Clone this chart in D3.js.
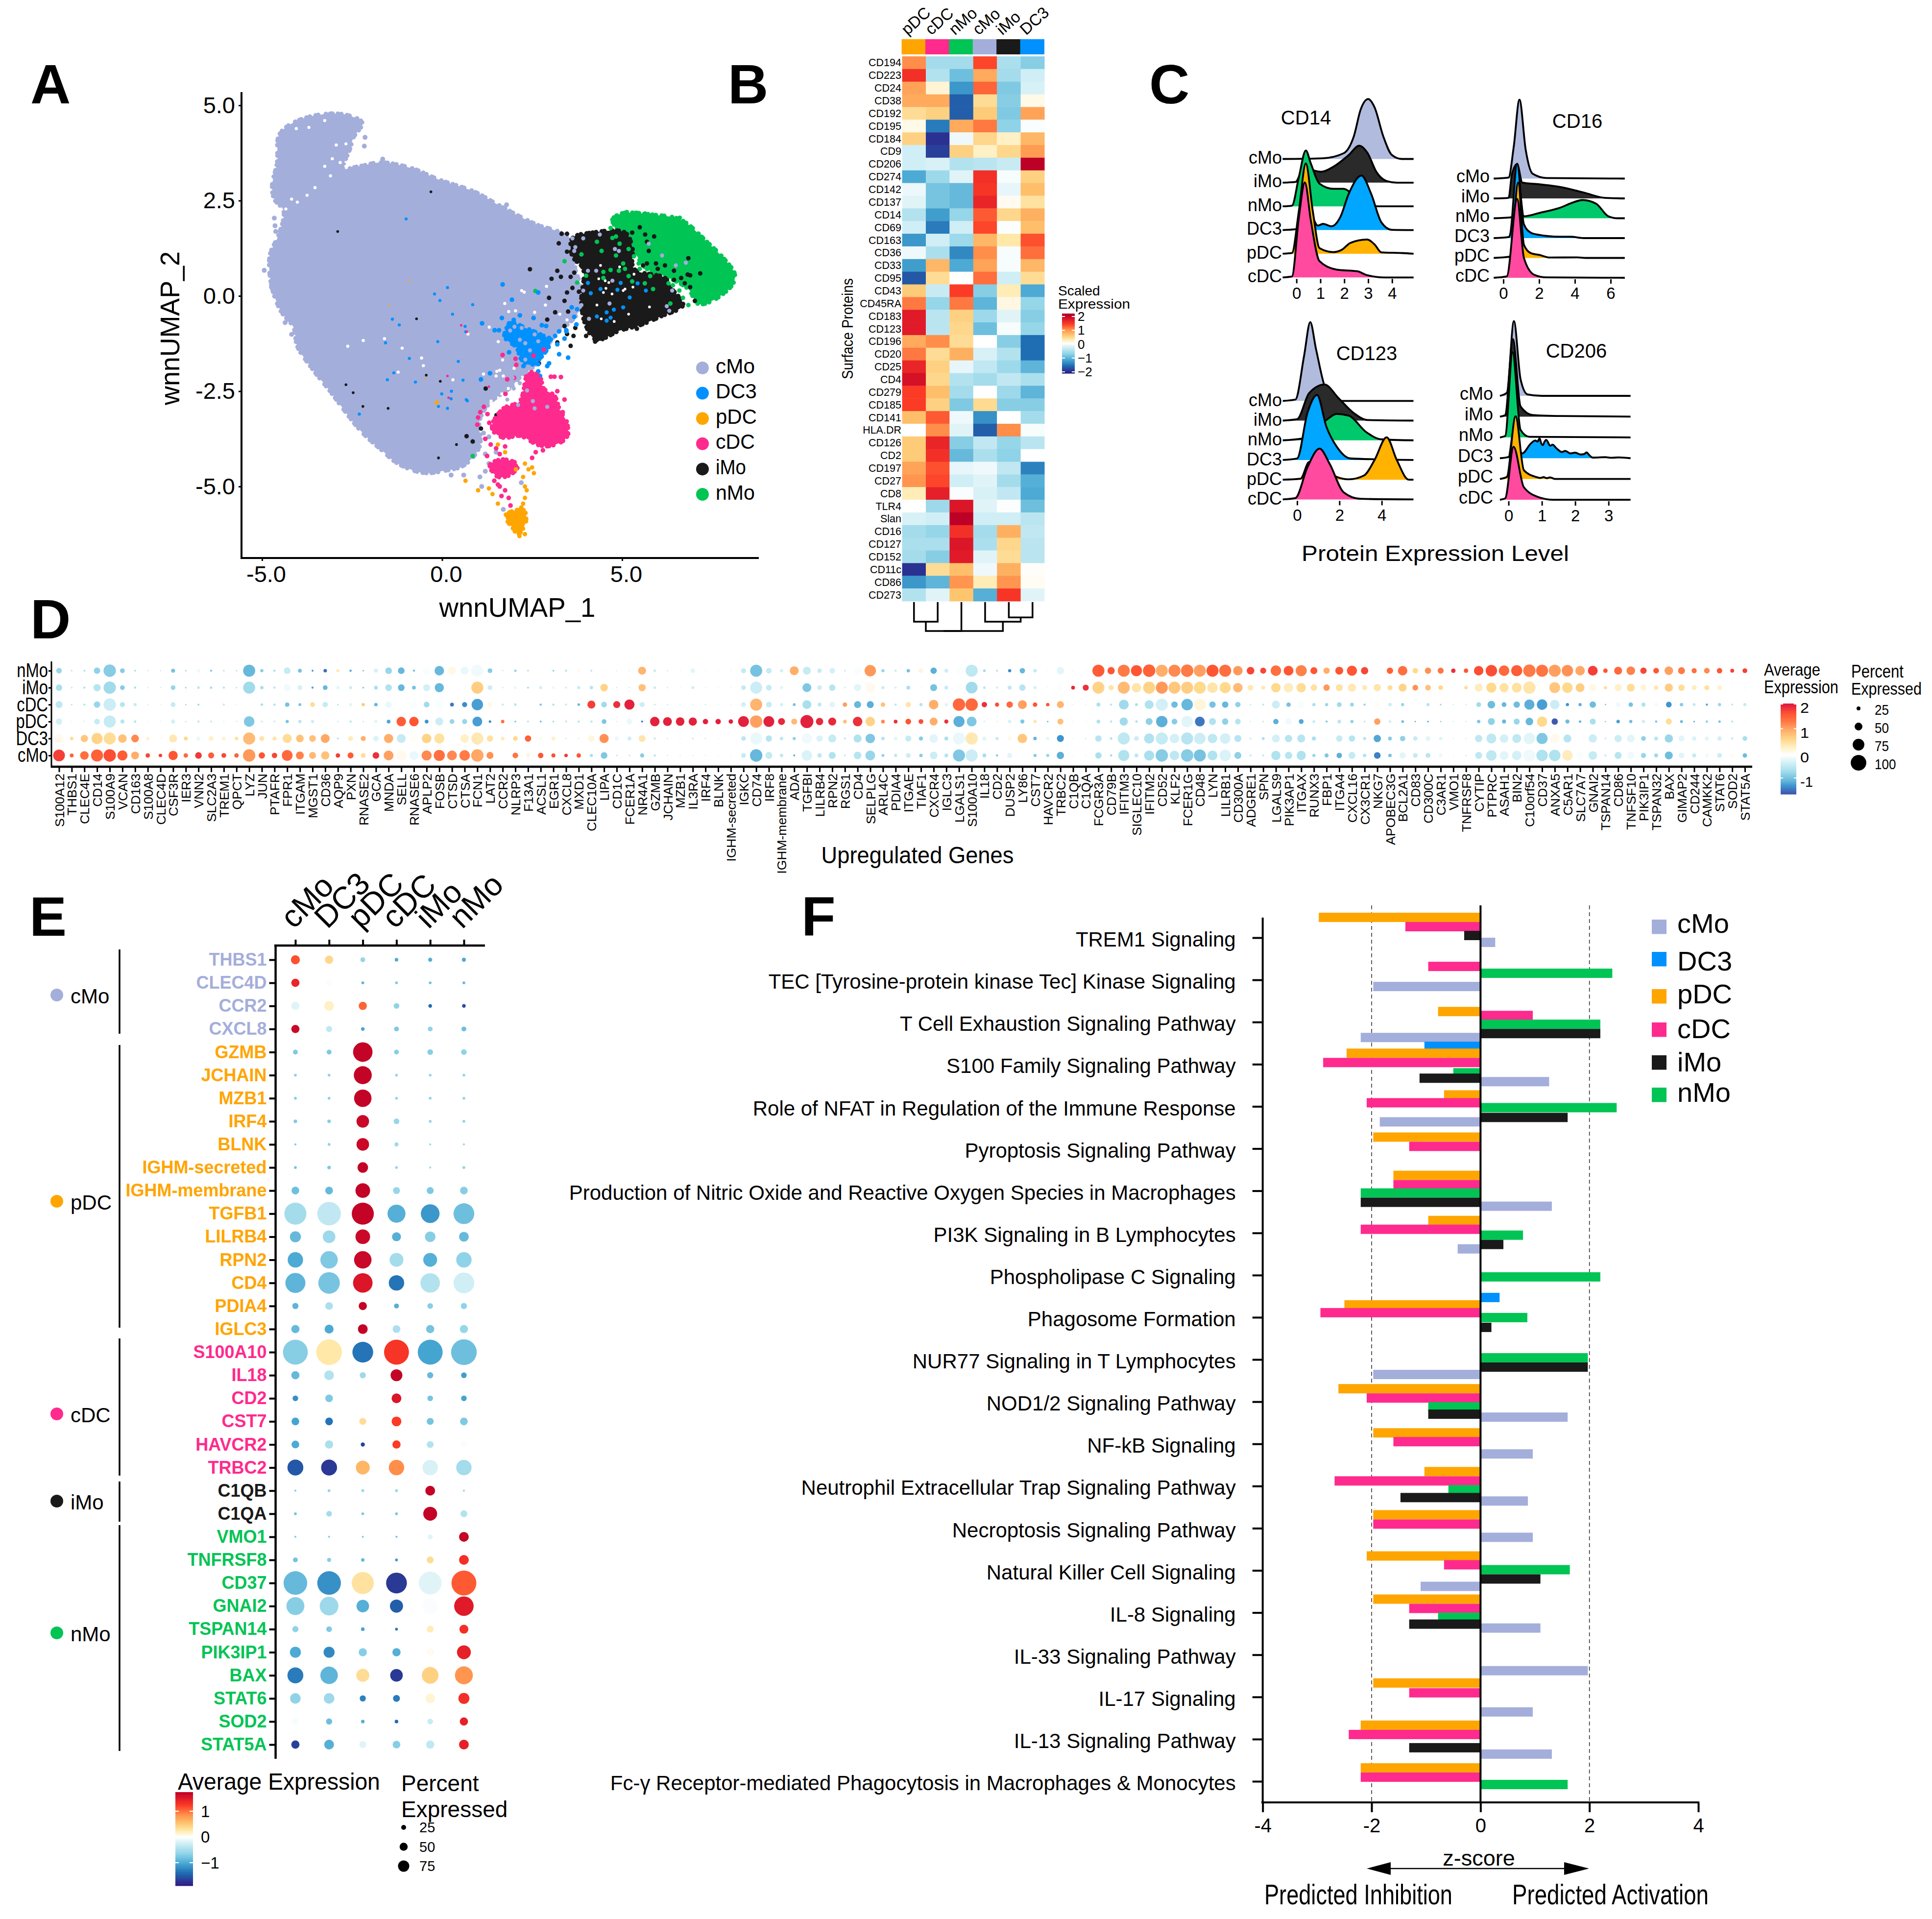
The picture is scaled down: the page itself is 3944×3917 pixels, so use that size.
<!DOCTYPE html>
<html><head><meta charset="utf-8">
<script src="https://cdn.jsdelivr.net/npm/d3@7/dist/d3.min.js"></script>
<style>html,body{margin:0;background:#fff}svg{display:block;font-family:"Liberation Sans",Arial,sans-serif}</style>
</head><body><svg id="c" width="3944" height="3917" viewBox="0 0 3944 3917"></svg>
<script>
// ---------- shared ----------
const clusterColors={cMo:"#A4AEDB",DC3:"#0091FF",pDC:"#FFA500",cDC:"#FF2A8D",iMo:"#1A1A1A",nMo:"#00C454"};
const ridgeFill={cMo:"#B1BBDE",iMo:"#2A2A2A",nMo:"#00C96B",DC3:"#00A6FF",pDC:"#FFB200",cDC:"#FF4AA0"};

// ---------- A: UMAP outlines and individually read points ----------
const umapCMo=[[-4.8,.76],[-4.77,1.12],[-4.53,1.62],[-4.4,2.23],[-4.66,2.54],[-4.72,2.89],[-4.58,3.5],[-4.53,4.21],[-4.18,4.52],[-3.43,4.75],[-2.67,4.75],[-2.22,4.54],[-2.46,4.16],[-2.56,3.86],[-2.73,3.35],[-2.3,3.4],[-1.7,3.5],[-.85,3.35],[-.09,3.05],[.88,2.74],[1.52,2.41],[2.6,1.88],[3.3,1.65],[3.61,1.34],[3.7,.7],[3.9,.1],[3.85,-.3],[3.6,-.65],[3.2,-.95],[2.9,-1.35],[2.6,-1.8],[2.2,-2.1],[1.9,-2.4],[1.33,-2.8],[1.04,-3.26],[1.04,-3.95],[.61,-4.44],[.04,-4.59],[-.53,-4.64],[-1.24,-4.39],[-1.67,-4.05],[-2.24,-3.56],[-3.16,-2.44],[-3.59,-1.93],[-4.02,-1.32],[-4.13,-.82],[-4.47,-.41],[-4.72,.2]];
const umapNMo=[[4.98,2.16],[5.84,2.13],[6.64,1.99],[7.35,1.42],[7.85,.95],[8.13,.56],[8.05,.28],[7.45,-.15],[7.1,-.2],[6.84,.18],[6.19,.52],[5.69,.71],[5.38,1.09],[4.98,1.66],[4.73,1.99]];
const umapIMo=[[3.62,1.51],[4.18,1.66],[5.08,1.66],[5.28,1.28],[5.33,.71],[6.19,.47],[6.34,.23],[6.69,-.24],[6.09,-.53],[5.48,-.77],[4.93,-.91],[4.28,-1.15],[3.97,-.72],[3.87,-.15],[3.92,.71],[3.62,1.04]];
const umapDC3=[[1.73,-1.05],[1.91,-.72],[2.36,-.86],[2.82,-1.05],[3.02,-1.15],[2.82,-1.53],[2.46,-1.81],[2.21,-1.67],[2.06,-1.34],[1.84,-1.19]];
const umapCDC=[[1.41,-3.33],[1.71,-2.95],[2.16,-2.76],[2.41,-2],[2.72,-2.15],[2.82,-2.43],[3.12,-2.62],[3.27,-3],[3.47,-3.33],[3.45,-3.72],[3.02,-3.93],[2.67,-3.91],[2.16,-3.67],[1.71,-3.72],[1.41,-3.53]];
const umapCDC2=[[1.33,-4.44],[1.69,-4.29],[2.11,-4.44],[1.9,-4.69],[1.54,-4.74]];
const umapPDC=[[1.76,-5.76],[2.26,-5.62],[2.33,-5.9],[2.11,-6.25],[1.97,-6.1]];
const gapsCMo=[[-3.7,4.42],[-2.94,3.96],[-2.67,3.99],[-3.05,3.6],[-3.26,3.4],[-3.53,2.84],[-3.75,2.64],[-4.18,2.54],[-4.02,2.46],[-4.34,2.28],[-2.67,3.4],[-3.1,3.15],[-2.83,3.5],[-3.26,4.6],[-4.05,4.39],[-1.6,-1.12],[-2.19,-1.17],[-1.11,-1.37],[-.57,-1.63],[-2.62,-1.32],[-1.22,-2],[-.52,-1.83],[.72,-1],[1.31,-.82],[1.85,-.41],[1.74,-.2],[2.28,.1],[1.52,-1.98],[1.68,-1.68],[2.21,.14],[2.04,-.39],[2.87,-.24],[3.27,-.48],[3.47,-.63],[2.57,-.43],[1.56,-1.2],[2,-1.9],[1.5,-2.1],[1.15,-2.05],[1.7,-2.1],[1.6,-1.95],[2.9,.25],[.3,-2.2],[1.36,-2.76],[1.66,-2.57],[1.84,-2.43]];
const gapsIMo=[[4.35,.45],[4.53,.4],[4.63,.35],[4.48,.09],[4.3,-.24],[5.08,.18],[5.03,.14],[4.78,-.67],[5.18,-.48],[5.76,-.29],[4.93,.76],[5.33,.57],[4.55,.2],[4.72,.05],[4.42,-.6],[5.3,.23],[4.4,.8]];
const strayCMo=[[-4.94,.67],[-4.74,.23],[-4.36,-.7],[-4.18,-1.01],[-4.64,1.84],[-4.62,1.69],[-4.66,2.04],[-2.14,4.16],[-2.16,3.93],[-1.65,3.59],[1.79,2.39],[2.2,-4.9],[.6,-4.7],[1.1,-5],[1.7,-5.6],[1.2,-4.6],[1.05,-4.75],[.25,-4.7],[1.5,-4.1],[1.3,-4.4],[1.2,-4.15],[1.15,-3.6],[1.3,-3.7]];
const overCMo=[[3.7,1.28],[3.67,1.18],[3.92,1.51],[4.8,1.23],[4.91,1.18],[4.28,.66],[4.05,.66],[4.73,.4],[4.65,-.2],[6.24,-.27],[6.31,-.39],[5.74,1.37],[6.11,1.06],[6.49,.8],[6.77,.87],[6.39,.14],[4.08,-.6],[3.87,-.24],[3.92,.14],[3.77,.5],[3.62,1.51],[4.38,1.61]];
const overDC3CMo=[[2.21,-.84],[2.47,-.67],[2.82,-.89],[2.57,-1.01],[2.16,-1.15],[2.31,-1.24],[2.67,-1.19],[2.44,-1.43],[2.31,-1.67],[2.01,-.81],[1.89,-.91],[2.82,-.43],[2.41,-.43],[3.07,-.24]];
const overCDCCMo=[[2.16,-2.29],[2.36,-2.48],[2.52,-2.76],[2.92,-2.91],[2.57,-2.95],[2.11,-2.86],[1.96,-2.15],[1.99,-2.43],[1.53,-2.53],[1.81,-2.72]];
const pointsDC3=[[1.46,-.9],[1.58,-.9],[1.66,-.58],[1.86,-.72],[1.99,-.63],[2.16,-.51],[2.54,-.58],[2.77,-.77],[2.89,-.79],[3.25,-.93],[3.4,-1.12],[3.45,-.93],[3.14,-1.05],[3.2,-1.27],[3.25,-1.53],[3.5,-1.62],[2.97,-1.77],[2.92,-1.84],[2.67,-1.79],[2.26,-1.84],[2.67,-1.98],[2.72,-2.1],[1.86,-1.48],[1.11,-.72],[1.94,-.1],[2.67,.09],[1.68,.3],[1.33,-2.03],[1.08,-2.19],[3.45,-.9],[3.67,-.55],[3.73,-.75],[3.6,-.3],[3.75,-.35]];
const deepDC3=[[-1,2.02],[.15,.22],[-.21,.05],[-.06,-.12],[-1.38,-.61],[-1.19,-.76],[-1.57,-1.23],[.29,-.48],[.85,-.23],[1.11,-.71],[.64,-.8],[.66,-.94],[1.67,.3],[-.12,-1.2],[-.91,-1.64],[-1.34,-2.02],[-1.52,-2.2],[-.74,-2.26],[.45,-1.72],[.58,-2.21],[1.33,-2.03],[1.07,-2.21],[.67,-2.72],[-.01,-2.57],[.26,-2.5],[.25,-2.7],[.7,-2.75],[-.1,-2.9],[-2.3,-3.1],[.15,-2.95]];
const overIMoDC3=[[4.05,.34],[4.4,.18],[4.96,.34],[4.87,.16],[5.21,-.04],[4.3,-.54],[4.57,-.43],[4.57,-.65],[4.77,-.36],[5.03,-.3],[4.68,-.57],[4.13,.07],[5.66,.14],[5.43,.33]];
const pointsIMo=[[5.69,1.42],[5.89,1.56],[5.64,1.61],[5.49,1.8],[5.28,1.66],[5.94,.85],[6.19,.8],[6.44,.66],[6.82,.56],[6.89,.54],[7.17,.59],[6.84,.99],[6.64,.47],[6.74,.33],[6.89,.23],[7.02,-.13],[5.99,.71],[5.69,.85],[5.58,.8],[5.74,1.18],[4.5,1.7],[6.44,.42],[3.24,1.38],[3.47,1.16],[3.32,1.63],[3.47,1.63],[3.2,.66],[3.04,.45],[3.3,.5],[3.62,.21],[3.8,.11],[3.47,.09],[3.4,-.13],[2.97,-.05],[3.14,-.43],[3.5,-.41],[3.67,.61],[3.57,.5],[2.44,.7],[2.92,-.62],[3.4,-.79],[3.47,-1],[3.65,-1.05],[3.7,-.84],[4,-1.05],[4.25,-1.2],[4.38,-1.12],[5.41,-.86],[3.2,-1.22],[3.57,-1.31],[2.69,-1.77],[1.21,-2.43],[1.08,-3.48],[.68,-3.68],[.85,-3.82],[1.51,-3.13]];
const deepIMo=[[-.31,2.73],[-2.9,1.69],[-2.67,-2.33],[-2.47,-2.54],[-.44,-2.08],[-.05,-2.24],[-.71,-.6],[-1.5,-2.95],[-.1,-4.25],[.4,-3.9],[-2.2,-2.9]];
const pointsNMo=[[4.3,1.42],[4.43,1.18],[4.83,1.06],[4.83,1.56],[5.03,.85],[4.68,.68],[4.48,.63],[4.91,.66],[5.08,.71],[5.18,.52],[5.28,.38],[5.63,.33],[5.86,.18],[5.78,.52],[5.49,.71],[6.34,-.2],[6.41,.28],[6.59,.14],[6.69,-.05],[6.84,-.24],[6.29,.33],[3.75,.35],[4,.53],[3.4,.91],[3.87,1.09],[4.48,.47],[5.33,1.04],[5.46,.85],[5.18,1.23],[4.93,1.37],[4.73,1.52],[4.98,2.09],[4.73,2],[4.78,1.87],[4.68,1.78],[5.38,2.18],[5.64,2.16],[5.13,2.2],[6.6,2.05],[7.6,1.2],[.85,-4.2],[2.59,.13]];
const pointsCDC=[[1.16,-2.91],[1.26,-3.1],[1.06,-3.05],[1.31,-3.33],[1,-3.19],[.98,-3.38],[3.02,-2.12],[3.12,-2.12],[3.3,-2.13],[3.2,-2.5],[3.4,-2.72],[3.35,-3.05],[3.5,-3.62],[1.81,-2.19],[1.76,-2.57],[1.68,-1.55],[2.04,-1.65],[2.54,-1.57],[2.82,-1.41],[2.06,-1.81],[2,-2.15],[1.2,-3.75],[1.35,-3.9],[1.5,-4],[1.6,-4.15],[1.75,-3.95],[2.6,-4.1],[2.8,-4.05],[2.5,-4.25],[1.25,-4.2],[1.4,-4.6],[1.45,-4.85],[1.6,-5],[1.75,-5.1],[1.85,-5.3],[1.65,-5.25],[1.9,-5.5],[1.55,-4.95]];
const deepCDC=[[.53,-.77],[.69,-.94],[.15,-2.1],[1.3,-2.38],[.18,-2.67]];
const pointsPDC=[[2.3,-4.4],[2.4,-4.55],[2.25,-4.75],[2.5,-4.5],[2.55,-4.65],[2.3,-5],[2.35,-5.1],[2.3,-5.3],[2.25,-5.45],[.65,-4.85],[1,-5.1],[1.3,-5.05],[1.4,-5.2],[1.55,-5.45],[2.05,-4.55],[1.75,-4.1],[1.55,-3.9],[-.15,-2.8],[1.85,-5.7],[2.2,-5.55],[2.15,-6.3],[2.3,-6.25]];
const deepPDC=[[-.91,.39],[-1.46,-.23],[-.47,-2.17]];
const umapLegend=["cMo","DC3","pDC","cDC","iMo","nMo"];

// ---------- B: heatmap ----------
const hmColumns=["pDC","cDC","nMo","cMo","iMo","DC3"];
const hmRows=["CD194","CD223","CD24","CD38","CD192","CD195","CD184","CD9","CD206","CD274","CD142","CD137","CD14","CD69","CD163","CD36","CD33","CD95","CD43","CD45RA","CD183","CD123","CD196","CD20","CD25","CD4","CD279","CD185","CD141","HLA.DR","CD126","CD2","CD197","CD27","CD8","TLR4","Slan","CD16","CD127","CD152","CD11c","CD86","CD273"];
const hmValues=[[1,-.6,-.6,1.35,-.55,-.8],[1.5,-.5,-.95,.8,-.6,-.3],[.85,.15,-1.3,1.2,-.85,-.25],[.8,.8,-1.7,.4,-.8,.08],[.4,.5,-1.7,.55,-.85,.85],[.08,-1.5,.8,1.1,-.75,-.03],[.5,-2,-.1,.45,.2,.7],[-.3,-1.9,.5,.2,.45,.9],[-.3,-.25,-.5,-.45,-.35,2],[-1.15,-.65,-.2,1.5,-.05,.5],[-.12,-.9,-1,1.45,-.15,.65],[-.2,-.9,-1,1.6,.05,.35],[-.5,-1.25,-.7,1.25,.45,.75],[-.3,-1.5,-.3,1.35,-.02,.65],[-1.3,-.3,-.65,.7,.3,1.3],[-.1,-.55,-1.4,1,-.05,1.15],[-1.25,.7,-1.15,.85,-.05,.7],[-1.75,.4,0,1.15,-.3,.4],[.55,-.35,1.4,-.8,.25,-1.15],[1.1,-.7,1.1,-1.05,.1,-.7],[1.7,-.45,.5,-.65,-.2,-.8],[1.7,-.45,.45,-.95,-.05,-.7],[.8,1,.4,0,-.8,-1.6],[1.1,.4,.75,-.25,-.5,-1.6],[1.6,.5,-.15,-.4,-.65,-1.05],[1.8,.45,-.5,-.6,-.4,-.55],[1.4,.65,-.6,0,-.65,-1.05],[1.4,.5,-.85,.42,-.8,-.8],[.65,1.25,-.1,-1.35,0,-.6],[0,1,-.2,-1.7,1,-.05],[.55,1.6,-.8,-.4,-.7,-.45],[.55,1.5,-1,-.55,-.75,0],[.85,1.3,-.15,-.1,-.4,-1.45],[.95,1.35,-.3,-.2,-.6,-1.1],[.25,1.65,-.03,-.25,-.4,-1.15],[0,-.65,1.75,-.2,-.02,-.95],[-.25,-.3,2,-.3,-.3,-.45],[-.6,-.7,1.5,-.6,.75,-.4],[-.55,-.55,1.75,-.55,.45,-.45],[-.6,-.8,1.7,-.2,.4,-.45],[-2,.4,.65,-.1,.75,.02],[-1.3,-1.05,.95,.25,.95,.04],[-.5,-.2,.6,-1.1,1.45,-.2]];
const dendroMerges=[["pDC","cDC",.68,"a"],["iMo","DC3",.53,"b"],["cMo","b",.68,"c"],["a","nMo",1,"d"],["d","c",1,"e"]];

// ---------- C: ridge curves [x, height in rows] ----------
const ridgeOrder=["cMo","iMo","nMo","DC3","pDC","cDC"];
const ridgeCD14={
 cMo:[[-.58,0],[1.1,.03],[1.97,.24],[2.4,.96],[2.69,2.1],[3,2.53],[3.27,2.17],[3.63,.96],[3.99,.17],[4.4,0],[4.9,0]],
 iMo:[[-.58,0],[-.04,.03],[.32,.67],[.68,.53],[1.04,.46],[1.54,.67],[2.19,1.17],[2.62,1.56],[2.98,1.24],[3.34,.46],[3.77,.07],[4.2,0],[4.9,0]],
 nMo:[[-.58,0],[-.19,.03],[.1,1.24],[.39,2.36],[.6,1.81],[.96,.96],[1.54,.74],[1.97,.74],[2.33,.53],[2.83,.1],[3.41,0],[4.9,0]],
 DC3:[[-.58,0],[.03,.04],[.38,1.5],[.7,.5],[.89,.19],[1.11,.26],[1.47,.16],[1.83,.54],[2.19,1.54],[2.72,2.3],[3.12,1.54],[3.55,.33],[3.99,.01],[4.9,0]],
 pDC:[[-.58,0],[-.19,.03],[.1,1.81],[.39,3.81],[.68,1.81],[.96,.24],[1.54,.07],[1.9,.17],[2.26,.46],[2.95,.6],[3.27,.39],[3.55,.06],[4.42,.03],[4.9,0]],
 cDC:[[-.58,0],[-.19,.04],[.1,2.54],[.35,4.01],[.6,2.4],[.96,.69],[1.68,.33],[2.55,.26],[2.91,.11],[3.7,0],[4.9,0]]};
const ridgeCD16={
 cMo:[[-.54,0],[.29,.05],[.58,1.61],[.9,3.98],[1.25,1.44],[1.63,.25],[2.4,.03],[6.79,0]],
 iMo:[[-.54,0],[.29,.03],[.48,1.22],[.77,1.73],[1.06,.8],[2.02,.71],[3.17,.58],[4.52,.29],[5.67,.03],[6.79,0]],
 nMo:[[-.54,0],[.48,.05],[.83,1.71],[1.15,.1],[2.02,.27],[3.17,.53],[3.85,.78],[4.42,.92],[5.19,.73],[5.87,.1],[6.4,0],[6.79,0]],
 DC3:[[-.54,0],[.29,.05],[.38,.19],[.77,3.75],[1.15,.69],[1.54,.27],[1.83,.19],[3.17,.07],[3.75,.07],[4.5,0],[6.79,0]],
 pDC:[[-.54,0],[.38,.07],[.83,3.8],[1.15,.66],[1.54,.24],[2.02,.15],[2.6,.02],[4.13,.03],[4.6,0],[6.79,0]],
 cDC:[[-.54,0],[.19,.07],[.77,3.97],[1.15,1],[1.73,.15],[2.4,.02],[6.79,0]]};
const ridgeCD123={
 cMo:[[-.68,0],[-.08,.07],[.33,2.3],[.62,4],[.89,2.64],[1.38,.5],[1.87,0],[5.5,0]],
 iMo:[[-.68,0],[0,.07],[.57,1.4],[1.3,1.83],[1.95,1.15],[2.68,.38],[3.33,.03],[5.5,0]],
 nMo:[[-.68,0],[.24,.09],[.8,.6],[1.38,1.03],[1.87,1.34],[2.44,1.25],[3.25,.43],[3.98,.05],[5.5,0]],
 DC3:[[-.68,0],[0,.08],[.49,2.4],[.94,3.3],[1.38,1.7],[1.87,.68],[2.52,.08],[5.5,0]],
 pDC:[[-.68,0],[.16,.05],[.57,.9],[1.1,.85],[1.87,.14],[2.44,.02],[3.17,.22],[3.66,1],[4.23,2.15],[4.71,1],[5.28,0],[5.5,0]],
 cDC:[[-.68,0],[-.08,.07],[.49,1.64],[1.06,2.58],[1.54,1.8],[2.2,.36],[3,.03],[5.5,0]]};
const ridgeCD206={
 cMo:[[-.26,0],[-.05,.15],[.16,3.6],[.36,.8],[.57,.07],[1,0],[3.66,0]],
 iMo:[[-.26,0],[-.1,.08],[.13,3.73],[.36,.49],[.72,.08],[1.6,.03],[3.66,0]],
 nMo:[[-.26,0],[-.1,.07],[.12,4.1],[.36,.36],[.62,.03],[3.66,0]],
 DC3:[[-.26,0],[0,.06],[.15,1.3],[.41,.23],[.67,.71],[.8,.85],[.87,.8],[.93,.96],[.98,.72],[1.03,.63],[1.08,.8],[1.13,.88],[1.25,.6],[1.32,.65],[1.44,.47],[1.6,.3],[1.7,.35],[1.86,.23],[2,.27],[2.15,.18],[2.27,.2],[2.34,.28],[2.42,.15],[2.53,.03],[2.9,.05],[3.1,.02],[3.3,.04],[3.66,0]],
 pDC:[[-.26,0],[-.05,.1],[.21,3.02],[.46,.42],[.82,.1],[.95,.05],[1.05,.09],[1.15,.04],[1.24,.08],[1.4,0],[3.66,0]],
 cDC:[[-.26,0],[-.1,.07],[.15,2.55],[.46,.6],[.93,.11],[1.34,0],[3.66,0]]};
const ridgePanels=[
 {name:"CD14",curves:ridgeCD14,dom:[0,4],rng:[2646.7,2841.8],ticks:[0,1,2,3,4],ext:[-.58,4.9],bases:[324.5,566.3],title:[2666,240],labelX:2617,labelDy:-3},
 {name:"CD16",curves:ridgeCD16,dom:[0,6],rng:[3069,3288],ticks:[0,2,4,6],ext:[-.54,6.79],bases:[364.5,567],title:[3220,247],labelX:3041,labelDy:-5},
 {name:"CD123",curves:ridgeCD123,dom:[0,4],rng:[2648,2820.7],ticks:[0,2,4],ext:[-.68,5.5],bases:[818.3,1019.4],title:[2790,721],labelX:2617,labelDy:-2},
 {name:"CD206",curves:ridgeCD206,dom:[0,3],rng:[3079.6,3283.7],ticks:[0,1,2,3],ext:[-.26,3.66],bases:[808,1020.1],title:[3218,716],labelX:3048,labelDy:-5}];

// ---------- D: dot plot ----------
const dGenes=["S100A12","THBS1","CLEC4E","CD14","S100A9","VCAN","CD163","S100A8","CLEC4D","CSF3R","IER3","VNN2","SLC2A3","TREM1","QPCT","LYZ","JUN","PTAFR","FPR1","ITGAM","MGST1","CD36","AQP9","PXN","RNASE2","GCA","MNDA","SELL","RNASE6","APLP2","FOSB","CTSD","CTSA","FCN1","LAT2","CCR2","NLRP3","F13A1","ACSL1","EGR1","CXCL8","MXD1","CLEC10A","LIPA","CD1C","FCER1A","NR4A1","GZMB","JCHAIN","MZB1","IL3RA","IRF4","BLNK","IGHM-secreted","IGKC","CD74","IRF8","IGHM-membrane","ADA","TGFBI","LILRB4","RPN2","RGS1","CD4","SELPLG","ARL4C","PDIA4","ITGAE","TIAF1","CXCR4","IGLC3","LGALS1","S100A10","IL18","CD2","DUSP2","LY86","CST7","HAVCR2","TRBC2","C1QB","C1QA","FCGR3A","CD79B","IFITM3","SIGLEC10","IFITM2","CD52","KLF2","FCER1G","CD48","LYN","LILRB1","CD300A","ADGRE1","SPN","LGALS9","PIK3AP1","ITGAX","RUNX3","FBP1","ITGA4","CXCL16","CX3CR1","NKG7","APOBEC3G","BCL2A1","CD83","CD300C","C3AR1","VMO1","TNFRSF8","CYTIP","PTPRC","ASAH1","BIN2","C10orf54","CD37","ANXA5","C5AR1","SLC7A7","GNAI2","TSPAN14","CD86","TNFSF10","PIK3IP1","TSPAN32","BAX","GIMAP2","CD244","CAMKK2","STAT6","SOD2","STAT5A"];
const dRows=["nMo","iMo","cDC","pDC","DC3","cMo"];
const dPctNMo=[36,10,12,40,78,30,12,8,8,25,10,25,14,10,10,76,20,14,42,24,12,22,20,14,10,25,42,42,14,50,60,50,50,76,30,8,16,10,6,12,14,20,12,40,8,8,50,16,10,8,28,8,6,8,32,76,36,22,56,50,28,36,10,50,72,20,14,22,30,40,24,60,76,16,12,20,34,22,14,46,6,20,76,46,76,70,78,76,76,78,76,76,76,60,48,38,66,62,70,44,40,50,64,46,0,40,60,34,40,38,28,28,60,72,66,70,78,76,76,72,60,62,28,50,54,40,36,54,44,32,36,34,24,30];
const dExpNMo=[-.7,-.6,-.6,-.75,-.8,-.8,-.6,-.5,-.5,-.9,-.7,-.1,-.8,-.6,-.6,-1,-.8,-.6,-.4,-.9,-1.2,-1.4,.4,-1.1,-.9,-.3,-.7,-1,-.9,-.05,-1,.15,-.15,-.1,-.8,-.5,-.7,-.7,-.1,-.7,-.5,.08,-.5,.02,-.3,-.3,.9,-.4,-.3,-.2,-.2,-.2,-.2,-.2,-.4,-.9,-.4,-.3,.95,-.4,-.4,-.3,-.5,-.05,1.1,-.7,-.4,-.9,.2,-1.05,-.35,-.02,-.45,-.7,-.6,-1.25,-1,-.4,.1,-.2,-.2,-.05,1.55,1.6,1.3,1.6,1.5,.95,1.2,1.3,1.05,1.6,1.4,1.1,1.7,1.7,1.4,1.6,1.25,1.6,.95,1.6,1.6,1.7,0,1.5,1.4,.6,1.15,1.35,1.85,1.6,1.65,1.65,1.45,1.55,1.3,1.35,1.05,1.15,1,1.75,1.6,1.45,1.25,1.7,1.6,1.05,1.3,1.4,1.2,1.6,1.75,1.75];
const dPctIMo=[40,10,14,46,78,30,14,8,8,30,12,16,16,14,10,76,22,14,44,30,14,30,20,20,12,24,42,42,24,44,58,6,30,76,30,8,20,12,20,16,14,20,22,48,10,10,46,16,10,8,18,8,6,8,30,76,36,20,10,56,30,40,10,46,64,20,14,24,22,44,24,50,74,16,14,26,40,20,14,40,24,38,76,34,76,60,76,76,76,76,76,66,70,60,36,26,60,60,60,40,40,44,52,32,46,32,50,36,36,30,6,22,50,64,58,62,78,70,68,66,56,46,22,44,50,36,30,52,40,30,32,30,20,24];
const dExpIMo=[-.6,-.5,-.55,-.5,-.65,-.8,-.6,-.4,-.4,-.7,-.6,-.5,-.6,-.5,-.5,-.65,-.6,-.5,-.1,-.3,-1.1,-1,-.2,-.35,-.8,-.6,-.55,-1,-.9,-.3,-1,0,-.02,.7,-.35,-.5,-.15,-.7,-.3,-.15,-.3,-.4,-.5,.65,-.3,-.3,.8,-.4,-.3,-.2,-.35,-.2,-.2,-.2,-.4,-.35,-.4,-.2,0,-.85,-.35,-.5,-.4,-.2,.1,-.35,-.3,-.6,-.05,-.9,-.4,-.02,-.65,-.5,-.35,-.45,-.5,-.3,-.1,-.03,1.9,1.85,.65,.45,.85,.45,.65,1.1,.75,.7,.6,.45,.6,.85,.4,.4,.6,.35,.55,.5,1.1,.5,.4,.4,.45,.55,.65,1.15,.8,.6,0,.55,.35,.6,.5,.5,.45,.01,.75,.6,.7,.15,.5,.3,.55,.25,.4,.7,.55,.35,.5,.3,-.03,-.05];
const dPctCDC=[44,10,14,40,78,32,20,8,8,30,10,12,18,14,14,6,16,14,28,18,30,34,8,20,20,22,40,6,42,36,56,24,32,72,30,14,16,8,14,14,14,16,50,36,44,64,32,12,10,8,8,10,6,8,30,76,36,20,18,56,24,36,28,44,44,28,14,34,20,60,22,78,78,34,26,40,56,28,22,44,6,6,24,14,62,18,56,76,40,72,74,40,40,34,8,12,50,28,50,20,20,30,24,14,40,22,20,10,20,10,8,8,30,48,30,40,64,66,60,20,20,40,10,34,28,26,22,36,22,18,14,20,12,20];
const dExpCDC=[-.45,-.5,-.5,-.7,-.35,-.5,-.4,-.3,-.2,-.4,-.6,-.7,-.02,-.4,-.1,0,-.6,-.6,-.9,-.9,.55,-.4,-.7,-.2,.75,-1,-.15,0,-.05,-.65,-.05,-1.35,-1.25,-1.15,.15,-.4,-.5,-.05,-.9,-.55,-.35,-1,1.75,-.65,1.85,1.95,-.35,-.35,-.3,-.2,-.3,-.3,-.2,-.2,-.3,.9,-.4,-.3,-.9,-.6,-.45,-.2,1.05,-1,-1.05,.8,-.5,.45,-.5,.95,-.2,1.45,1.45,1.85,1.65,1.45,1.05,1.6,1.6,.9,-.2,-.2,-.6,-.5,-.65,-.6,-.55,-.3,-.95,-1,.2,-.9,-1,-.75,-.5,-.5,-.35,-.9,-.05,-.6,-.7,-.65,-.7,-.7,.05,-.35,-.7,0,-.5,-.7,-.35,-.4,-.65,-.95,-1,-.95,-1.05,-1.15,-.35,-1.2,-1.05,-.95,-.8,-.1,-.9,-.55,-.1,-1.2,-.8,-.45,-1.1,-.7,-.5,-.4];
const dPctPDC=[40,8,14,36,76,26,16,8,8,26,10,14,14,8,12,66,14,12,20,20,20,6,10,14,10,20,24,60,60,24,50,30,32,62,16,22,12,12,12,12,12,14,16,30,8,36,12,60,56,54,52,34,34,28,68,78,68,44,38,82,46,50,24,60,60,24,24,36,30,50,26,70,62,14,14,20,26,20,10,38,6,6,24,14,52,14,44,72,36,72,62,44,40,36,8,10,34,40,30,18,14,24,20,10,40,18,18,8,10,10,8,8,22,44,26,38,48,64,40,26,16,38,10,22,20,20,14,38,18,10,16,16,12,6];
const dExpPDC=[-.3,-.2,-.15,-.4,-.4,-.5,-.5,-.2,-.3,-.3,-.4,-.45,-.35,-.3,-.2,-.85,-.3,-.4,-.9,-.5,-.35,0,-.35,-.5,-.4,-.2,-1.1,1.55,1.6,-1.2,-.35,-.7,-.7,-1.15,-1.25,1.4,-.8,-.5,-.9,-.6,-.5,-.5,-.4,-.85,-.3,-.15,-1.4,1.95,1.95,1.95,1.95,1.95,1.95,1.95,1.95,1.05,1.95,1.9,.85,1.95,1.9,1.9,.8,1.85,.65,1.2,1.85,1.6,1.65,.95,1.85,-1.05,-.85,-.2,.2,-.3,-.85,.45,-1,.8,-.2,-.2,-.55,-.5,-.65,-.65,-.75,-1.05,-.8,-.2,-1.35,-.55,-.75,-.5,-.4,-.5,-1.05,-.1,-1.1,-.4,-.8,-.45,-.75,-.6,1.05,-.3,-.9,-1.2,-1.15,-.7,-.4,-.4,-.85,-.75,-1,-.7,-1,.6,-1.5,-.95,-1,-.6,-.7,-1.15,-.95,-.35,-.9,.55,-1,-1.1,-.7,-.85,-.6,-.1];
const dPctDC3=[60,22,46,70,76,54,48,20,16,50,24,24,30,24,22,76,32,26,58,48,42,56,12,32,32,34,58,56,50,60,64,16,54,76,40,24,30,40,20,24,14,18,40,58,26,24,42,14,10,8,12,10,6,8,30,76,40,22,20,66,40,50,14,50,60,22,22,38,26,54,24,76,78,26,20,24,60,22,20,44,6,14,40,16,76,30,64,76,60,76,72,60,66,44,14,18,50,46,50,26,36,40,40,20,46,24,34,28,30,20,6,8,46,62,54,56,72,70,62,50,6,52,12,46,48,30,24,52,38,28,26,28,14,30];
const dExpDC3=[.1,.55,.75,.65,.55,.8,1.2,.3,.1,.4,.6,-.15,.3,.25,.5,.85,.45,.45,.55,.8,.8,1,-.6,.35,.95,-.25,.95,-.4,.05,.65,.5,0,.3,.4,.5,.35,.6,1.5,.1,.3,-.2,-.1,.2,1.15,-.15,-.35,.45,-.4,-.3,-.2,-.35,-.3,-.2,-.1,-.45,-.15,-.5,-.45,-.75,-.1,-.25,-.4,-.4,-.55,-.85,-.5,-.2,-.4,-.8,-.2,-.6,-.15,.4,-.2,-.4,.12,.75,-1,-.2,-1.2,-.2,-.2,-.5,-.5,-.45,-.35,-.55,-.4,-.3,-.5,-.35,-.45,-.3,-.5,-.3,-.6,-.3,-.5,-.5,-.6,-.05,-.4,-.5,-.5,-1.1,-.8,-.75,-.4,-.2,-.25,-.3,-.3,-.45,-.45,-.3,-.45,-.2,-.85,.1,-.5,0,-.35,-.4,-.35,-.2,-.75,-.5,-.7,-.2,-.25,-.2,-.3,-.45,-.6];
const dPctCMo=[74,24,54,76,78,64,50,28,22,58,28,42,38,30,28,78,40,34,68,50,44,52,28,38,30,42,62,66,56,64,70,62,66,78,44,6,36,26,34,26,22,28,20,42,10,10,26,14,8,8,8,8,6,8,30,78,44,22,12,66,28,44,12,48,62,18,20,30,22,48,24,76,76,24,14,32,6,20,20,46,6,8,40,14,70,24,64,78,60,78,76,62,72,44,14,12,58,46,58,20,26,34,44,22,42,22,40,30,30,22,6,10,44,66,56,60,76,72,72,66,44,54,14,44,44,32,26,50,36,26,24,30,20,28];
const dExpCMo=[1.75,1.5,1.4,1.5,1.65,1.55,.95,1.7,1.75,1.6,1.45,1.8,1.55,1.7,1.5,1.1,1.6,1.7,1.45,1.25,.85,.8,1.75,1.55,.55,1.85,1.05,.1,-.15,1.2,1.4,1.2,1.3,1,1.15,0,1.35,.2,1.6,1.65,1.8,1.6,-.6,-.85,-.5,-.5,-.8,-.5,-.4,-.3,-.3,-.3,-.2,-.2,-.4,-1,-.4,-.45,-1.1,-.25,-.45,-.55,-.4,-.5,-.7,-.75,-.45,-.35,-.8,-.35,-.5,-.85,-.35,-.6,-.85,-.2,0,-.8,-.7,-1.05,-.2,-.2,-.6,-.7,-.55,-.45,-.6,-.8,-.45,-.8,-.9,-.55,-.25,-.75,-.4,-.5,-.55,-.5,-.55,-.7,-.85,-1.05,-.4,-.55,-1.3,-.9,-.2,-.4,-.5,-.15,-.2,-.4,-.45,-.45,-.2,-.3,-.1,-.55,-.55,.35,-.05,-.4,-.4,-.5,-.1,-.7,-.65,-.95,-.2,-.4,-.1,-.35,.12,-.95];
const dPctLegend=[25,50,75,100];
const dExpTicks=[2,1,0,-1];

// ---------- E: marker dot plot ----------
const eColumns=["cMo","DC3","pDC","cDC","iMo","nMo"];
const eGenes=["THBS1","CLEC4D","CCR2","CXCL8","GZMB","JCHAIN","MZB1","IRF4","BLNK","IGHM-secreted","IGHM-membrane","TGFB1","LILRB4","RPN2","CD4","PDIA4","IGLC3","S100A10","IL18","CD2","CST7","HAVCR2","TRBC2","C1QB","C1QA","VMO1","TNFRSF8","CD37","GNAI2","TSPAN14","PIK3IP1","BAX","STAT6","SOD2","STAT5A"];
const eGeneGroup=["cMo","cMo","cMo","cMo","pDC","pDC","pDC","pDC","pDC","pDC","pDC","pDC","pDC","pDC","pDC","pDC","pDC","cDC","cDC","cDC","cDC","cDC","cDC","iMo","iMo","nMo","nMo","nMo","nMo","nMo","nMo","nMo","nMo","nMo","nMo"];
const ePct=[[35,32,19,14,16,16],[32,22,11,11,11,11],[32,38,32,22,14,14],[32,24,14,19,19,19],[19,19,76,19,22,22],[11,11,70,11,11,11],[11,11,68,11,11,11],[14,14,49,22,11,11],[8,11,49,16,8,8],[11,14,41,11,8,11],[30,30,57,27,27,30],[86,92,86,70,73,81],[43,49,57,35,41,38],[60,68,68,54,54,60],[78,84,76,60,76,81],[24,30,32,19,22,24],[32,35,38,30,32,32],[97,100,81,97,97,100],[32,38,24,46,24,22],[22,30,0,38,22,22],[30,30,27,38,27,30],[30,32,16,32,27,27],[62,62,54,60,60,60],[8,11,11,11,38,8],[11,22,11,11,54,27],[8,8,8,8,19,38],[19,16,14,11,27,38],[92,92,86,81,89,97],[70,73,49,51,62,76],[24,22,14,11,27,35],[43,43,32,32,30,54],[62,68,51,49,65,70],[41,41,24,27,38,43],[27,24,14,14,22,32],[32,38,27,30,32,38]];
const eExpr=[[1.3,.45,-.7,-1.15,-1.1,-1.15],[1.6,-.03,-1.05,-.85,-.9,-1],[-.2,.2,1.2,-.75,-1.6,-1.8],[1.9,-.4,-1.2,-.85,-.75,-.95],[-.85,-.85,1.95,-.8,-.8,-.75],[-.75,-.75,1.95,-.7,-.7,-.7],[-.8,-.75,1.95,-.7,-.7,-.7],[-.85,-.8,1.9,-.7,-.75,-.75],[-.85,-.75,1.9,-.65,-.7,-.7],[-.9,-.85,1.95,-.7,-.7,-.75],[-.95,-1,1.95,-.7,-.85,-.8],[-.6,-.4,1.95,-1.1,-1.3,-.95],[-1,-.65,1.9,-1.1,-.8,-1],[-1.15,-.85,1.9,-.6,-1.1,-.75],[-1.05,-.9,1.75,-1.55,-.5,-.3],[-1.05,-.55,1.95,-1.1,-.8,-.75],[-1,-1.15,1.95,-.55,-.9,-.7],[-.8,.3,-1.55,1.45,-1.2,-.95],[-1,-.5,-.65,1.95,-1,-1.25],[-1.35,-.85,0,1.75,-.9,-1.2],[-1.2,-1.55,.4,1.4,-.9,-.85],[-1.15,-.55,-1.9,1.4,-.5,-.03],[-1.75,-1.95,.7,1,-.25,-.6],[-.8,-.7,-.7,-.7,1.95,-.7],[-.9,-.6,-.85,-.9,1.95,-.5],[-.8,-.8,-.8,-.9,-.2,1.95],[-.9,-.8,-1,-1.3,.4,1.5],[-1,-1.35,.35,-1.95,-.2,1.25],[-.8,-.65,-1.1,-1.7,-.03,1.7],[-.75,-.85,-1.2,-1.5,.25,1.5],[-1.15,-1.4,-.8,-1.1,.05,1.65],[-1.5,-1.05,.4,-1.95,.5,.95],[-.75,-.65,-1.45,-1.5,.15,1.5],[-.05,-.95,-1.1,-1.6,-.35,1.65],[-1.9,-1.1,-.2,-.8,-.4,1.65]];
const ePctLegend=[25,50,75];
const eExpTicks=[1,0,-1];

// ---------- F: pathway z-scores ----------
const fPathways=["TREM1 Signaling","TEC [Tyrosine-protein kinase Tec] Kinase Signaling","T Cell Exhaustion Signaling Pathway","S100 Family Signaling Pathway","Role of NFAT in Regulation of the Immune Response","Pyroptosis Signaling Pathway","Production of Nitric Oxide and Reactive Oxygen Species in Macrophages","PI3K Signaling in B Lymphocytes","Phospholipase C Signaling","Phagosome Formation","NUR77 Signaling in T Lymphocytes","NOD1/2 Signaling Pathway","NF-kB Signaling","Neutrophil Extracellular Trap Signaling Pathway","Necroptosis Signaling Pathway","Natural Killer Cell Signaling","IL-8 Signaling","IL-33 Signaling Pathway","IL-17 Signaling","IL-13 Signaling Pathway","Fc-γ Receptor-mediated Phagocytosis in Macrophages & Monocytes"];
const _=null;
const fZCMo=[.27,-1.97,-2.2,1.26,-1.85,_,1.31,-.42,_,_,-1.97,1.6,.96,.87,.96,-1.1,1.1,1.97,.96,1.31,_];
const fZDC3=[_,_,-1.03,_,_,_,_,_,_,.35,_,_,_,_,_,_,_,_,_,_,_];
const fZPDC=[-2.97,_,-.78,-2.46,-.67,-1.97,-1.6,-.96,_,-2.5,_,-2.61,-1.97,-1.03,-1.97,-2.09,-1.97,_,-1.97,-2.2,-2.2];
const fZCDC=[-1.38,-.96,.96,-2.89,-2.09,-1.31,-1.6,-2.2,_,-2.94,_,-2.09,-1.6,-2.68,-1.97,-.67,-1.31,_,-1.31,-2.42,-2.2];
const fZIMo=[-.3,_,2.2,-1.12,1.6,_,-2.2,.42,_,.2,1.97,-.96,_,-1.47,_,1.1,-1.31,_,_,-1.31,_];
const fZNMo=[_,2.42,2.2,-.5,2.5,_,-2.2,.78,2.2,.86,1.97,-.96,_,-.59,_,1.64,-.78,_,_,_,1.6];
// vertical slot of each bar relative to its pathway's tick (layout, not data)
const fSlotCMo=[0,4,22,26,22,_,22,23,_,_,21,22,11,21,9,23,22,23,21,21,_];
const fSlotDC3=[_,_,40,_,_,_,_,_,_,-50,_,_,_,_,_,_,_,_,_,_,_];
const fSlotPDC=[-51,_,-31,-32,-33,-33,-41,-35,_,-35,_,-36,-32,-39,-37,-39,-37,_,-38,-38,-37];
const fSlotCDC=[-32,-37,-23,-13,-17,-14,-22,-17,_,-19,_,-17,-14,-20,-18,-21,-18,_,-18,-19,-18];
const fSlotIMo=[-14,_,14,19,13,_,14,14,_,11,6,16,_,14,_,8,14,_,_,8,_];
const fSlotNMo=[_,-23,-5,8,-7,_,-5,-5,-6,-9,-13,1,_,-2,_,-11,0,_,_,_,-3];
const fSeries=[["cMo",fZCMo,fSlotCMo],["DC3",fZDC3,fSlotDC3],["pDC",fZPDC,fSlotPDC],["cDC",fZCDC,fSlotCDC],["nMo",fZNMo,fSlotNMo],["iMo",fZIMo,fSlotIMo]];
const fLegendNames=["cMo","DC3","pDC","cDC","iMo","nMo"];

// ---------- helpers ----------
const svg=d3.select("#c");
svg.append("rect").attr("width",3944).attr("height",3917).attr("fill","#fff");
function T(x,y,s,o={}){
  const t=svg.append("text").attr("x",x).attr("y",y).text(s)
    .attr("font-size",o.size||30).attr("text-anchor",o.anchor||"start")
    .attr("font-weight",o.weight||"normal").attr("fill",o.fill||"#000");
  if(o.center!==false) t.attr("dy",".35em");
  const sx=o.len?o.len/t.node().getComputedTextLength():1;
  if(o.len||o.rot!==undefined)
    t.attr("transform",`translate(${x} ${y}) rotate(${o.rot||0}) scale(${sx} 1) translate(${-x} ${-y})`);
  return t;
}
function sty(g,size,sw,tw){
  g.selectAll("text").attr("font-size",size).attr("font-family",'"Liberation Sans"').attr("fill","#000");
  g.selectAll("line").attr("stroke","#000").attr("stroke-width",tw||sw);
  g.selectAll(".domain").attr("stroke","#000").attr("stroke-width",sw).attr("fill","none");
}
const ramp=d3.scaleLinear()
 .domain([-2,-1.6,-1.2,-.75,-.35,0,.3,.6,1,1.4,1.7,2])
 .range(["#2B3190","#1F6DB3","#45A5D1","#8FD3E8","#C8EBF3","#FFFFFF","#FFE8A8","#FEC56F","#FF8E4A","#FB3B26","#E01A28","#BD0026"]);
const rampD=d3.scaleLinear()
 .domain([-1.5,-1.2,-1,-.6,-.3,0,.3,.6,1,1.3,1.6,2])
 .range(["#3F58B0","#3E95CF","#66B8DC","#A8E0EE","#D3F0F6","#FFFFFF","#FFF0C8","#FFD98C","#FFA865","#FF7A45","#FF5533","#DE1A3E"]);
function colorbar(x0,x1,y0,y1,fn,n=80){
  const s=d3.scaleLinear().domain([0,n]).range([y0,y1]);
  svg.append("g").selectAll("rect").data(d3.range(n)).join("rect")
    .attr("x",x0).attr("width",x1-x0).attr("y",d=>s(d)).attr("height",(y1-y0)/n+.6)
    .attr("fill",d=>fn((d+.5)/n));
}
function cbTicks(x0,x1,ys,w=7){
  const g=svg.append("g").attr("stroke","#fff").attr("stroke-width",2);
  ys.forEach(y=>{g.append("line").attr("x1",x0).attr("x2",x0+w).attr("y1",y).attr("y2",y);
    g.append("line").attr("x1",x1-w).attr("x2",x1).attr("y1",y).attr("y2",y);});
}
[["A",62,211],["B",1486,211],["C",2346,211],["D",62,1303],["E",60,1910],["F",1636,1910]].forEach(d=>{
  T(d[1],d[2],d[0],{size:114,weight:"bold",center:false});
});

// ---------- A ----------
{
 const x=d3.scaleLinear().domain([-5,5]).range([535,1270]);
 const y=d3.scaleLinear().domain([-5,5]).range([993,215]);
 const line=d3.line().x(d=>x(d[0])).y(d=>y(d[1])).curve(d3.curveCatmullRomClosed.alpha(.5));
 const g=svg.append("g");
 const blob=(pts,name)=>g.append("path").attr("d",line(pts)).attr("fill",clusterColors[name])
   .attr("stroke",clusterColors[name]).attr("stroke-width",9.5).attr("stroke-linecap","round").attr("stroke-dasharray","0.1 7 0.1 12 0.1 5 0.1 16 0.1 9 0.1 4 0.1 11");
 const dots=(pts,fill,r=5)=>g.append("g").selectAll("circle").data(pts).join("circle")
   .attr("cx",d=>x(d[0])).attr("cy",d=>y(d[1])).attr("r",r).attr("fill",fill);
 const c=clusterColors;
 blob(umapCMo,"cMo"); dots(strayCMo,c.cMo);
 dots(gapsCMo,"#fff",3.2);
 dots(deepDC3,c.DC3,3.2); dots(deepIMo,c.iMo,2.8); dots(deepCDC,c.cDC,2.6); dots(deepPDC,c.pDC,1.8);
 blob(umapNMo,"nMo"); blob(umapIMo,"iMo");
 dots(gapsIMo,"#fff",2.8);
 dots(pointsIMo,c.iMo,4.6);
 dots(pointsNMo,c.nMo,4.6);
 dots(overIMoDC3,c.DC3,4.2); dots(overCMo,c.cMo,4.2);
 blob(umapDC3,"DC3"); dots(pointsDC3,c.DC3,4.8); dots(overDC3CMo,c.cMo,4.2);
 blob(umapCDC,"cDC"); blob(umapCDC2,"cDC"); dots(pointsCDC,c.cDC,4.8); dots(overCDCCMo,c.cMo,4.2);
 blob(umapPDC,"pDC"); dots(pointsPDC,c.pDC,4.5);
 const f=d=>d3.format(".1f")(d).replace("−","-");
 const ax=svg.append("g").attr("transform","translate(493,0)").call(d3.axisLeft(y).tickValues([-5,-2.5,0,2.5,5]).tickFormat(f).tickSize(6).tickPadding(7));
 ax.select(".domain").attr("d","M0,188V1141"); sty(ax,47,4,3);
 const bx=svg.append("g").attr("transform","translate(0,1139)").call(d3.axisBottom(x).tickValues([-5,0,5]).tickFormat(f).tickSize(6).tickPadding(10));
 bx.select(".domain").attr("d","M491,0H1549"); sty(bx,47,4,3);
 bx.selectAll(".tick text").attr("dx",8);
 T(1056,1240,"wnnUMAP_1",{size:55,anchor:"middle",len:319});
 T(347,670,"wnnUMAP_2",{size:55,anchor:"middle",rot:-90,len:314});
 const ly=d3.scalePoint().domain(umapLegend).range([751,1009]);
 umapLegend.forEach(n=>{
   svg.append("circle").attr("cx",1434).attr("cy",ly(n)).attr("r",13).attr("fill",clusterColors[n]);
   T(1461,ly(n)-4,n,{size:42,len:n==="iMo"?62:(n==="DC3"||n==="pDC"?84:80)});
 });
}

// ---------- B ----------
{
 const x=d3.scaleBand().domain(hmColumns).range([1841.6,2132]);
 const y=d3.scaleBand().domain(hmRows).range([115,1227]);
 svg.append("g").selectAll("g").data(hmValues).join("g").each(function(row,i){
   d3.select(this).selectAll("rect").data(row).join("rect")
    .attr("x",(d,j)=>x(hmColumns[j])).attr("width",x.bandwidth()+.5)
    .attr("y",y(hmRows[i])).attr("height",y.bandwidth()+.5).attr("fill",d=>ramp(d));
 });
 svg.append("g").selectAll("rect").data(hmColumns).join("rect")
   .attr("x",d=>x(d)-1).attr("width",x.bandwidth()+1).attr("y",80).attr("height",31).attr("fill",d=>clusterColors[d]);
 hmColumns.forEach(c=>T(x(c)+11,73,c,{size:33,rot:-42,center:false}));
 hmRows.forEach(r=>T(1840,y(r)+y.bandwidth()/2,r,{size:21.5,anchor:"end"}));
 T(1730,671,"Surface Proteins",{size:32,anchor:"middle",rot:-90,len:206});
 const h=d3.scaleLinear().domain([0,1]).range([1229,1288]);
 const nodes={};hmColumns.forEach(c=>nodes[c]={x:x(c)+x.bandwidth()/2,h:0});
 const dg=svg.append("g").attr("fill","none").attr("stroke","#000").attr("stroke-width",3.5);
 dendroMerges.forEach(m=>{
   const a=nodes[m[0]],b=nodes[m[1]];
   dg.append("path").attr("d",`M${a.x},${h(a.h)}V${h(m[2])}H${b.x}V${h(b.h)}`);
   nodes[m[3]]={x:(a.x+b.x)/2,h:m[2]};
 });
 T(2160,593,"Scaled",{size:28}); T(2160,620,"Expression",{size:28,len:147});
 colorbar(2168,2194,640,762,t=>ramp(2.15-t*4.3));
 const ty=d3.scaleLinear().domain([2,-2]).range([646,759]);
 const tv=[2,1,0,-1,-2];
 cbTicks(2168,2194,tv.map(ty),6);
 tv.forEach(v=>T(2200,ty(v),String(v).replace("-","−"),{size:26}));
}

// ---------- C ----------
{
 ridgePanels.forEach(p=>{
  const x=d3.scaleLinear().domain(p.dom).range(p.rng);
  const b=d3.scalePoint().domain(ridgeOrder).range(p.bases);
  const step=b.step();
  const g=svg.append("g");
  ridgeOrder.forEach(n=>{
    const pts=p.curves[n], base=b(n);
    g.append("path").attr("fill",ridgeFill[n])
      .attr("d",d3.area().x(d=>x(d[0])).y0(base).y1(d=>base-d[1]*step).curve(d3.curveMonotoneX)(pts));
    g.append("path").attr("fill","none").attr("stroke","#000").attr("stroke-width",3.8).attr("stroke-linejoin","round")
      .attr("d",d3.line().x(d=>x(d[0])).y(d=>base-d[1]*step).curve(d3.curveMonotoneX)(pts));
    T(p.labelX,base+p.labelDy,n,{size:36,anchor:"end"});
  });
  const ax=svg.append("g").attr("transform",`translate(0,${p.bases[1]+3})`).call(d3.axisBottom(x).tickValues(p.ticks).tickFormat(d=>d).tickSize(9).tickPadding(8));
  ax.select(".domain").remove(); sty(ax,33,3);
  T(p.title[0],p.title[1],p.name,{size:40,anchor:"middle"});
 });
 T(2930,1129,"Protein Expression Level",{size:45,anchor:"middle",len:546});
}

// ---------- D ----------
{
 const x=d3.scalePoint().domain(dGenes).range([120.5,3562]);
 const y=d3.scalePoint().domain(dRows).range([1369,1542]);
 const rows={nMo:[dPctNMo,dExpNMo],iMo:[dPctIMo,dExpIMo],cDC:[dPctCDC,dExpCDC],pDC:[dPctPDC,dExpPDC],DC3:[dPctDC3,dExpDC3],cMo:[dPctCMo,dExpCMo]};
 const r=d3.scaleLinear().domain([0,100]).range([0,16.2]);
 dRows.forEach(n=>{
  svg.append("g").selectAll("circle").data(dGenes).join("circle")
   .attr("cx",d=>x(d)).attr("cy",y(n))
   .attr("r",(d,i)=>Math.max(rows[n][0][i]?1.2:0,r(rows[n][0][i])))
   .attr("fill",(d,i)=>rampD(rows[n][1][i]));
 });
 const bx=svg.append("g").attr("transform","translate(0,1565)").call(d3.axisBottom(x).tickSize(11).tickSizeOuter(0));
 bx.select(".domain").attr("d","M105,0H3577"); sty(bx,26.5,4.5,3);
 bx.selectAll(".tick text").attr("transform","rotate(-90)").attr("text-anchor","end").attr("x",-14).attr("y",0).attr("dy",".36em");
 const ax=svg.append("g").attr("transform","translate(105,0)").call(d3.axisLeft(y).tickSize(6).tickSizeOuter(0));
 ax.select(".domain").attr("d","M0,1350V1567"); sty(ax,40,3,3);
 ax.selectAll(".tick text").attr("x",0).attr("transform","translate(-7,0) scale(.82,1)");
 T(1873,1745,"Upregulated Genes",{size:48,anchor:"middle",len:393});
 T(3601,1366,"Average",{size:36,len:115}); T(3601,1402,"Expression",{size:36,len:152});
 T(3779,1370,"Percent",{size:36,len:107}); T(3779,1405,"Expressed",{size:36,len:144});
 colorbar(3635,3667,1436,1621,t=>rampD(2.02-t*3.55));
 const ty=d3.scaleLinear().domain([2,-1]).range([1437,1588]);
 cbTicks(3635,3667,dExpTicks.map(ty),5);
 dExpTicks.forEach(v=>T(3675,ty(v)+8,String(v),{size:30,len:String(v).length===1?18:26}));
 const ly=d3.scalePoint().domain(dPctLegend).range([1446,1557]);
 dPctLegend.forEach(v=>{
   svg.append("circle").attr("cx",3794).attr("cy",ly(v)).attr("r",r(v)*.98).attr("fill","#000");
   T(3827,ly(v)+3,String(v),{size:29,len:String(v).length*14.5});
 });
}

// ---------- E ----------
{
 const x=d3.scalePoint().domain(eColumns).range([603,947]);
 const y=d3.scalePoint().domain(eGenes).range([1959,3561]);
 const r=d3.scaleLinear().domain([0,100]).range([0,26.2]);
 eGenes.forEach((g,i)=>{
  svg.append("g").selectAll("circle").data(eColumns).join("circle")
   .attr("cx",c=>x(c)).attr("cy",y(g)).attr("r",(c,j)=>r(ePct[i][j])).attr("fill",(c,j)=>ramp(eExpr[i][j]));
 });
 const la=svg.append("g").attr("transform","translate(562.6,0)").call(d3.axisLeft(y).tickSize(13).tickPadding(5).tickSizeOuter(0));
 la.select(".domain").attr("d","M0,1928V3590"); sty(la,36,4.5,4);
 la.selectAll(".tick text").attr("font-weight","bold").attr("fill",(d,i)=>clusterColors[eGeneGroup[i]]);
 const ta=svg.append("g").attr("transform","translate(0,1930)").call(d3.axisTop(x).tickSize(12).tickSizeOuter(0));
 ta.select(".domain").attr("d","M560,0H990"); sty(ta,64,4.5,4);
 ta.selectAll(".tick text").attr("text-anchor","start").attr("transform","translate(-4,-32) rotate(-45)").attr("y",0).attr("dy",0).attr("x",0);
 const grp=[["cMo",1938,2110,2031],["pDC",2133,2710,2452],["cDC",2732,3012,2886],["iMo",3024,3106,3064],["nMo",3113,3574,3333]];
 grp.forEach(g=>{
  svg.append("line").attr("x1",244).attr("x2",244).attr("y1",g[1]).attr("y2",g[2]).attr("stroke","#000").attr("stroke-width",3.5);
  svg.append("circle").attr("cx",116).attr("cy",g[3]).attr("r",13).attr("fill",clusterColors[g[0]]);
  T(144,g[3]+2,g[0],{size:42});
 });
 T(363,3653,"Average Expression",{size:48,center:false,len:413});
 colorbar(358,394,3658,3849,t=>ramp((1.75-t*3.65)*1.14));
 const ty=d3.scaleLinear().domain([1,-1]).range([3697,3802]);
 cbTicks(358,394,eExpTicks.map(ty),7);
 eExpTicks.forEach(v=>T(410,ty(v),String(v).replace("-","−"),{size:33}));
 T(819,3656,"Percent",{size:46,center:false}); T(819,3709,"Expressed",{size:46,center:false});
 const ly=d3.scalePoint().domain(ePctLegend).range([3730,3809]);
 const legR=d3.scaleLinear().domain([25,75]).range([5,11.5]);
 ePctLegend.forEach(v=>{
  svg.append("circle").attr("cx",824).attr("cy",ly(v)).attr("r",legR(v)).attr("fill","#000");
  T(856,ly(v),String(v),{size:29});
 });
}

// ---------- F ----------
{
 const x=d3.scaleLinear().domain([-4,4]).range([2577.7,3467]);
 const y=d3.scalePoint().domain(fPathways).range([1914,3636]);
 const barH=19;
 [-2,2].forEach(v=>svg.append("line").attr("x1",x(v)).attr("x2",x(v)).attr("y1",1848).attr("y2",3679)
   .attr("stroke","#333").attr("stroke-width",1.6).attr("stroke-dasharray","8 6"));
 fSeries.forEach(s=>{
  const vals=fPathways.map((p,i)=>({p,v:s[1][i],o:s[2][i]})).filter(d=>d.v!==null);
  svg.append("g").selectAll("rect").data(vals).join("rect")
   .attr("x",d=>x(Math.min(0,d.v))).attr("width",d=>Math.abs(x(d.v)-x(0)))
   .attr("y",d=>y(d.p)+d.o).attr("height",barH).attr("fill",clusterColors[s[0]]);
 });
 svg.append("line").attr("x1",x(0)).attr("x2",x(0)).attr("y1",1848).attr("y2",3679).attr("stroke","#000").attr("stroke-width",4);
 const la=svg.append("g").attr("transform","translate(2577.7,0)").call(d3.axisLeft(y).tickSize(21).tickPadding(34).tickSizeOuter(0));
 la.select(".domain").attr("d","M0,1873V3681"); sty(la,42,4,4);
 la.selectAll(".tick text").attr("dy","0.42em");
 const ba=svg.append("g").attr("transform","translate(0,3679)").call(d3.axisBottom(x).tickValues([-4,-2,0,2,4]).tickFormat(d=>String(d)).tickSize(20).tickPadding(13));
 ba.select(".domain").attr("d","M2575,0H3469"); sty(ba,40,4,4);
 const ly=[1884,1961,2028,2099,2167,2229], sy=[1877,1943,2019,2087,2154,2220];
 fLegendNames.forEach((n,i)=>{
  svg.append("rect").attr("x",3372).attr("y",sy[i]).attr("width",30).attr("height",29.5).attr("fill",clusterColors[n]);
  T(3424,ly[i],n,{size:56});
 });
 T(3019,3792,"z-score",{size:45,anchor:"middle"});
 svg.append("line").attr("x1",2830).attr("x2",3200).attr("y1",3814).attr("y2",3814).attr("stroke","#000").attr("stroke-width",2.5);
 svg.append("path").attr("d","M2790,3814L2839,3801V3827Z");
 svg.append("path").attr("d","M3244,3814L3193,3801V3827Z");
 T(2581,3867,"Predicted Inhibition",{size:58,len:384});
 T(3087,3867,"Predicted Activation",{size:58,len:401});
}
</script></body></html>
